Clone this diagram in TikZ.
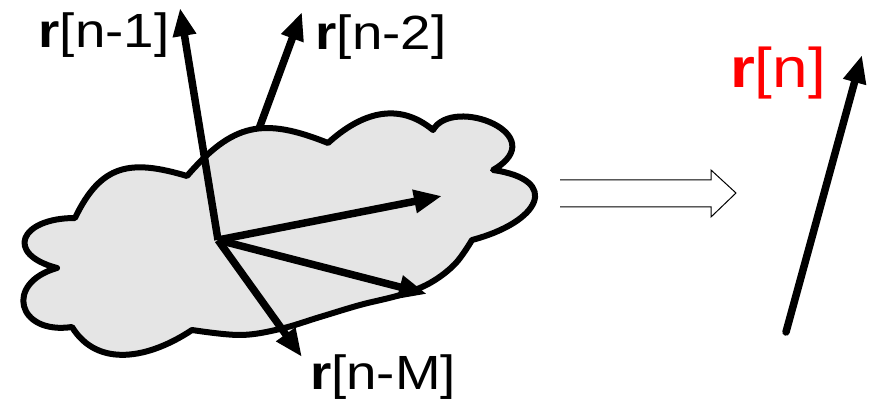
\documentclass[tikz,border=0pt]{standalone}
\usepackage{fontspec}
\setmainfont{Liberation Sans}
\usepackage{tikz}
\usepackage{xcolor}
\definecolor{CloudGray}{RGB}{229, 229, 229}
\definecolor{PureRed}{RGB}{255, 0, 0}
\usetikzlibrary{arrows.meta}

\begin{document}
\begin{tikzpicture}[
    x=1pt, y=1pt,
    cloud/.style={draw=black, line width=6pt, fill=CloudGray, line join=round},
    vec/.style={-{Triangle[length=28pt, width=22pt]}, line width=7.5pt, black},
    lbl/.style={inner sep=0pt, xscale=1.14, transform shape, font=\fontsize{48}{50}\selectfont},
    hollow/.style={draw=black, line width=1pt, fill=white, line join=miter}
]
\useasboundingbox (0,0) rectangle (871,399);

% Common origin and vector tips
\coordinate (o) at (218,159);
\coordinate (t1) at (180,391);
\coordinate (t2) at (302,387);
\coordinate (t3) at (442,203);
\coordinate (t4) at (427,105);
\coordinate (tM) at (302,42);

% r[n-2] lies behind the cloud
\draw[vec] (o) -- (t2);

% Cloud
\draw[cloud] (57,131) .. controls (4,145) and (20,181) .. (75,181)
    .. controls (101,235) and (130,240) .. (187,223)
    .. controls (233,276) and (263,282) .. (328,256)
    .. controls (361,286) and (398,298) .. (433,269)
    .. controls (453,304) and (554,264) .. (493,229)
    .. controls (562,219) and (540,177) .. (472,159)
    -- plot[smooth, tension=.6] coordinates {(472,159) (455,135) (430,116) (400,104)
        (360,94) (320,82) (280,70) (240,64) (192,69)}
    .. controls (150,41) and (98,30) .. (72,72)
    .. controls (17,64) and (4,116) .. (57,131) -- cycle;

% Vectors in front of the cloud
\draw[vec] (o) -- (t1);
\draw[vec] (o) -- (t3);
\draw[vec] (o) -- (t4);
\draw[vec] (o) -- (tM);

% Labels
\node[lbl] (l1) at (104,364) {\textbf{r}[n-1]};
\node[lbl] (l2) at (381,362) {\textbf{r}[n-2]};
\node[lbl] (lM) at (383,22) {\textbf{r}[n-M]};

% Hollow arrow
\draw[hollow] (560,219) -- (711,219) -- (711,229) -- (736,206)
    -- (711,182) -- (711,192) -- (560,192);

% Predicted vector
\coordinate (s) at (786,67);
\coordinate (tn) at (862,344);
\draw[vec, line cap=round] (s) -- (tn);
\node[lbl, text=PureRed, font=\fontsize{56}{58}\selectfont] (ln) at (778,326) {\textbf{r}[n]};

\end{tikzpicture}
\end{document}
